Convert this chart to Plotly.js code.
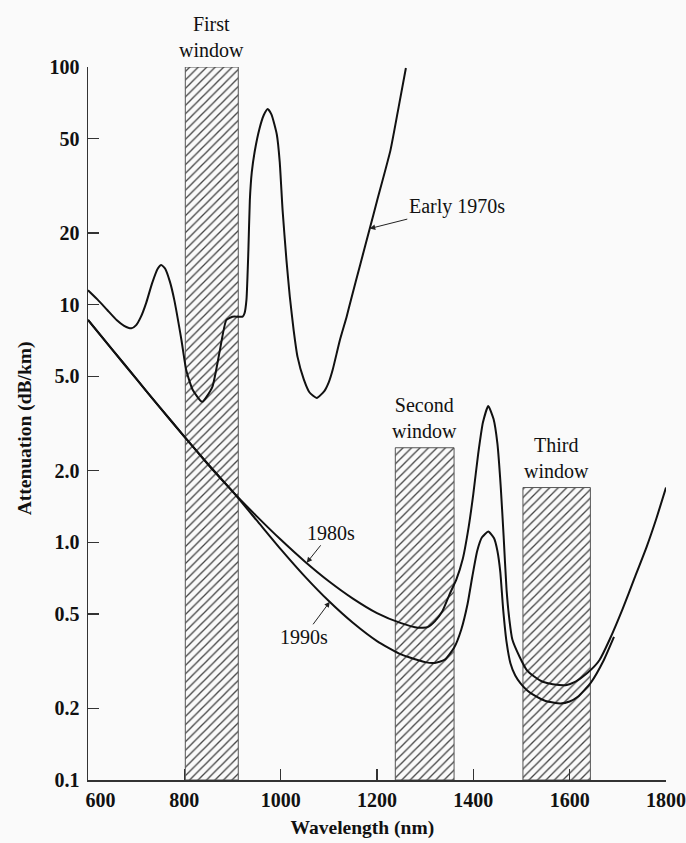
<!DOCTYPE html>
<html>
<head>
<meta charset="utf-8">
<script src="https://cdn.plot.ly/plotly-3.0.1.min.js"></script>
<style>html,body{margin:0;padding:0;background:#fafafa;}</style>
</head>
<body>
<div id="chart" style="width:686px;height:843px;"></div>
<script>
// ---- Data ----
const wavelength1970s = [600, 620, 640, 660, 675, 690, 700, 710, 721, 733, 745, 752, 760, 770, 779, 794, 804, 817, 837, 858, 873, 887, 900, 912, 921, 925, 929, 933, 936, 940, 946, 956, 965, 973, 981, 992, 998, 1004, 1012, 1019, 1027, 1035, 1048, 1060, 1075, 1091, 1100, 1108, 1123, 1137, 1146, 1165, 1185, 1200, 1228, 1245, 1260];
const attenuation1970s = [11.5, 10.5, 9.5, 8.6, 8.15, 7.95, 8.2, 8.9, 10.2, 12.3, 14.2, 14.7, 14.2, 12.5, 10.5, 7.1, 5.3, 4.4, 3.9, 4.5, 6.3, 8.6, 8.9, 8.9, 8.9, 9.2, 10.5, 17, 27.5, 36, 44, 55, 62.8, 66.6, 63, 52, 40, 25, 15.4, 10.8, 7.8, 6.03, 4.85, 4.27, 4.05, 4.34, 4.72, 5.32, 7.1, 8.9, 10.5, 14.7, 20.9, 27.3, 44.7, 68, 99];

const wavelength1980s = [600, 650, 700, 750, 800, 850, 900, 950, 1000, 1050, 1100, 1150, 1200, 1250, 1285, 1305, 1320, 1335, 1350, 1365, 1378, 1390, 1400, 1410, 1420, 1431, 1442, 1450, 1457, 1463, 1469, 1475, 1481, 1496, 1511, 1527, 1544, 1565, 1594, 1610, 1627, 1645, 1662, 1683, 1710, 1735, 1760, 1780, 1800];
const attenuation1980s = [8.62, 6.49, 4.88, 3.68, 2.785, 2.12, 1.639, 1.289, 1.027, 0.831, 0.686, 0.58, 0.504, 0.457, 0.437, 0.44, 0.465, 0.51, 0.6, 0.7, 0.85, 1.15, 1.6, 2.35, 3.2, 3.75, 3.3, 2.6, 1.7, 1.05, 0.63, 0.47, 0.39, 0.33, 0.29, 0.272, 0.259, 0.253, 0.251, 0.258, 0.272, 0.292, 0.32, 0.39, 0.525, 0.71, 0.96, 1.26, 1.7];

const wavelength1990s = [600, 650, 700, 750, 800, 850, 900, 950, 1000, 1050, 1100, 1150, 1200, 1250, 1300, 1320, 1340, 1360, 1375, 1388, 1398, 1408, 1418, 1431, 1443, 1450, 1456, 1462, 1469, 1477, 1487, 1498, 1512, 1525, 1550, 1581, 1600, 1617, 1644, 1671, 1692];
const attenuation1990s = [8.62, 6.49, 4.88, 3.68, 2.785, 2.12, 1.639, 1.239, 0.936, 0.719, 0.566, 0.4585, 0.384, 0.3375, 0.3133, 0.311, 0.32, 0.36, 0.43, 0.55, 0.72, 0.92, 1.05, 1.11, 1.04, 0.92, 0.75, 0.52, 0.38, 0.31, 0.275, 0.255, 0.238, 0.228, 0.215, 0.21, 0.214, 0.224, 0.257, 0.32, 0.40];

// Transmission windows
const windowNames = ['First<br>window', 'Second<br>window', 'Third<br>window'];
const windowStart = [802, 1238, 1503];
const windowEnd = [912, 1360, 1643];
const windowTop = [100, 2.5, 1.7];
const windowBase = 0.1;

// Axis ticks
const xTickVals = [600, 800, 1000, 1200, 1400, 1600, 1800];
const xTickText = ['&nbsp;&nbsp;&nbsp;&nbsp;&nbsp;600', '800', '1000', '1200', '1400', '1600', '1800'];
const yTickVals = [0.1, 0.2, 0.5, 1, 2, 5, 10, 20, 50, 100];
const yTickText = ['0.1', '0.2', '0.5', '1.0', '2.0', '5.0', '10', '20', '50', '100'];

// Curve labels (arrow tip wavelength / attenuation, text offset in px)
const curveLabels = ['Early 1970s', '1980s', '1990s'];
const labelTipX = [1185, 1054, 1102];
const labelTipY = [20.9, 0.82, 0.562];
const labelAx = [87, 24, -26];
const labelAy = [-22, -30, 35];

// ---- Build figure ----
const FONT = 'Liberation Serif, Times New Roman, serif';
const lineStyle = {color: '#111', width: 2, shape: 'spline', smoothing: 0.5};

const traces = [
  {
    type: 'bar',
    x: windowStart.map((s, i) => (s + windowEnd[i]) / 2),
    width: windowStart.map((s, i) => windowEnd[i] - s),
    base: windowStart.map(() => windowBase),
    y: windowTop.map(t => t - windowBase),
    marker: {
      color: 'rgba(0,0,0,0)',
      line: {color: '#555', width: 1},
      pattern: {shape: '/', fgcolor: '#444', bgcolor: 'rgba(0,0,0,0)', size: 6, solidity: 0.22}
    },
    hoverinfo: 'skip',
    showlegend: false
  },
  {type: 'scatter', mode: 'lines', x: wavelength1970s, y: attenuation1970s, line: lineStyle, showlegend: false},
  {type: 'scatter', mode: 'lines', x: wavelength1980s, y: attenuation1980s, line: lineStyle, showlegend: false},
  {type: 'scatter', mode: 'lines', x: wavelength1990s, y: attenuation1990s, line: lineStyle, showlegend: false}
];

const annotations = [];
windowNames.forEach((n, i) => {
  annotations.push({
    x: (windowStart[i] + windowEnd[i]) / 2, y: Math.log10(windowTop[i]),
    xref: 'x', yref: 'y', text: n, showarrow: false, yanchor: 'bottom', yshift: 4,
    font: {family: FONT, size: 20, color: '#111'}
  });
});
curveLabels.forEach((t, i) => {
  annotations.push({
    x: labelTipX[i], y: Math.log10(labelTipY[i]), xref: 'x', yref: 'y', text: t,
    showarrow: true, ax: labelAx[i], ay: labelAy[i], arrowhead: 2, arrowsize: 1.1,
    arrowwidth: 1, arrowcolor: '#222', standoff: 0,
    font: {family: FONT, size: 20, color: '#111'}
  });
});

const layout = {
  width: 686, height: 843,
  margin: {l: 88, r: 20, t: 67, b: 63},
  paper_bgcolor: '#fafafa',
  plot_bgcolor: 'rgba(0,0,0,0)',
  showlegend: false,
  barmode: 'overlay',
  xaxis: {
    range: [600, 1800], tickmode: 'array', tickvals: xTickVals, ticktext: xTickText,
    ticks: 'inside', ticklen: 11, tickwidth: 1.3, tickcolor: '#333',
    showline: true, linecolor: '#333', linewidth: 1.5,
    showgrid: false, zeroline: false, ticklabelstandoff: 1,
    tickfont: {family: FONT, size: 20, color: '#111', weight: 'bold'},
    title: {text: 'Wavelength (nm)&nbsp;&nbsp;&nbsp;&nbsp;&nbsp;&nbsp;', standoff: 11, font: {family: FONT, size: 19.5, color: '#111', weight: 'bold'}}
  },
  yaxis: {
    type: 'log', range: [-1, 2], tickmode: 'array', tickvals: yTickVals, ticktext: yTickText,
    ticks: 'inside', ticklen: 11, tickwidth: 1.3, tickcolor: '#333',
    showline: true, linecolor: '#333', linewidth: 1.5,
    showgrid: false, zeroline: false, ticklabelstandoff: 3,
    tickfont: {family: FONT, size: 20, color: '#111', weight: 'bold'},
    title: {text: 'Attenuation (dB/km)&nbsp;&nbsp;', standoff: 12, font: {family: FONT, size: 19.5, color: '#111', weight: 'bold'}}
  },
  annotations: annotations
};

Plotly.newPlot('chart', traces, layout, {displayModeBar: false, staticPlot: true});
</script>
</body>
</html>
